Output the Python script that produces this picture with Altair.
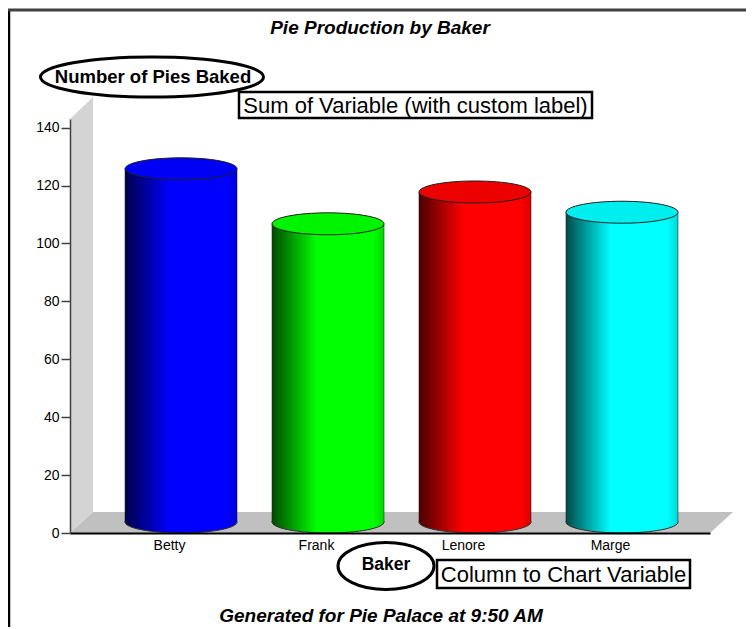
import altair as alt
import pandas as pd

# ---- data ----
bakers = ["Betty", "Frank", "Lenore", "Marge"]
pies = [122, 103, 114, 107]
y_ticks = [0, 20, 40, 60, 80, 100, 120, 140]

title_text = "Pie Production by Baker"
footer_text = "Generated for Pie Palace at 9:50 AM"
y_title_text = "Number of Pies Baked"
y_note_text = "Sum of Variable (with custom label)"
x_title_text = "Baker"
x_note_text = "Column to Chart Variable"

# ---- styles ----
full_colors = ["#0000ff", "#00ff00", "#ff0000", "#00ffff"]
dark_colors = ["#00004a", "#004a00", "#4a0000", "#004a4a"]
top_colors = ["#0000f4", "#00f400", "#ec0000", "#00eeee"]
edge_colors = ["#0000d8", "#00d800", "#d80000", "#00d8d8"]

W, H = 640, 414
DX, DY = 23, -21          # depth of the 3D floor/wall
CX, CY = 11.5, -11        # cylinders sit halfway in depth
CYL_W = 112

df = pd.DataFrame({"Baker": bakers, "Pies": pies})
one = alt.Data(values=[{"a": 1}])


def ellipse_path(k):
    c = 0.5523 * k
    return (f"M-1,0 C-1,{-c:.4f} -0.5523,{-k:.4f} 0,{-k:.4f} "
            f"C0.5523,{-k:.4f} 1,{-c:.4f} 1,0 "
            f"C1,{c:.4f} 0.5523,{k:.4f} 0,{k:.4f} "
            f"C-0.5523,{k:.4f} -1,{c:.4f} -1,0 Z")


x_enc = alt.X(
    "Baker:N",
    sort=bakers,
    scale=alt.Scale(paddingInner=0.238, paddingOuter=0.296),
    axis=alt.Axis(
        title=None, ticks=False, labelAngle=0, labelPadding=5,
        labelFont="Liberation Sans", labelFontSize=14, labelColor="#000000",
        domainColor="#000000", domainWidth=2, zindex=1,
    ),
)
y_scale = alt.Scale(domain=[0, 143], nice=False, zero=True)
y_axis = alt.Axis(
    title=None, values=y_ticks, grid=False, tickSize=9, tickColor="#404040",
    tickWidth=1.5, labelPadding=2, labelFont="Liberation Sans",
    labelFontSize=14, labelColor="#000000", domainColor="#404040",
    domainWidth=1.5, zindex=1,
)

layers = []

# floor and back wall (3D furniture)
floor_path = f"M0,0 L{W},0 L{W + DX},{DY} L{DX},{DY} Z"
wall_path = f"M0,0 L{DX},{DY} L{DX},{-H + DY - 1} L0,{-H} Z"
layers.append(
    alt.Chart(one).mark_point(shape=wall_path, size=4, filled=True,
                              fill="#d4d4d4", strokeWidth=0, opacity=1)
    .encode(x=alt.value(0), y=alt.value(H))
)
layers.append(
    alt.Chart(one).mark_point(shape=floor_path, size=4, filled=True,
                              fill="#c0c0c0", strokeWidth=0, opacity=1)
    .encode(x=alt.value(0), y=alt.value(H))
)

# axis carrier layer (invisible) to fix scales/axes
layers.append(
    alt.Chart(df).mark_point(opacity=0)
    .encode(x=x_enc, y=alt.Y("Pies:Q", scale=y_scale, axis=y_axis))
)

ell = ellipse_path(0.196)
for i, b in enumerate(bakers):
    grad = alt.LinearGradient(
        gradient="linear", x1=0, x2=1, y1=0, y2=0,
        stops=[
            alt.GradientStop(offset=0, color=dark_colors[i]),
            alt.GradientStop(offset=0.4, color=full_colors[i]),
            alt.GradientStop(offset=0.9, color=full_colors[i]),
            alt.GradientStop(offset=1, color=edge_colors[i]),
        ],
    )
    base = alt.Chart(df).transform_filter(alt.datum.Baker == b)
    # bottom ellipse
    layers.append(
        base.mark_point(shape=ell, size=CYL_W ** 2, filled=True, fill=grad,
                        stroke="#303030", strokeWidth=1, opacity=1,
                        xOffset=CX, yOffset=CY)
        .encode(x=alt.X("Baker:N", sort=bakers), y=alt.datum(0))
    )
    # body
    layers.append(
        base.mark_bar(fill=grad, strokeWidth=0, xOffset=CX, x2Offset=CX,
                      yOffset=CY, y2Offset=CY)
        .encode(x=alt.X("Baker:N", sort=bakers), y=alt.Y("Pies:Q"), y2=alt.datum(0))
    )
    # side edges
    for sx in (-CYL_W / 2, CYL_W / 2):
        layers.append(
            base.mark_rule(color="#202020", strokeWidth=0.8, opacity=0.7,
                           xOffset=CX + sx, yOffset=CY, y2Offset=CY)
            .encode(x=alt.X("Baker:N", sort=bakers), y=alt.Y("Pies:Q"), y2=alt.datum(0))
        )
    # top ellipse
    layers.append(
        base.mark_point(shape=ell, size=CYL_W ** 2, filled=True, fill=top_colors[i],
                        stroke="#202020", strokeWidth=1, opacity=1,
                        xOffset=CX, yOffset=CY)
        .encode(x=alt.X("Baker:N", sort=bakers), y=alt.Y("Pies:Q"))
    )

# frame lines (left and top)
layers.append(
    alt.Chart(one).mark_rule(color="#000000", strokeWidth=2.5)
    .encode(x=alt.value(-61), y=alt.value(-109), y2=alt.value(520))
)
layers.append(
    alt.Chart(one).mark_rule(color="#404040", strokeWidth=3)
    .encode(x=alt.value(-62), x2=alt.value(700), y=alt.value(-109))
)

# title & footer
layers.append(
    alt.Chart(one).mark_text(text=title_text, font="Liberation Sans", fontSize=19,
                             fontStyle="italic", fontWeight="bold", color="#000000",
                             align="center", baseline="middle")
    .encode(x=alt.value(310), y=alt.value(-91))
)
layers.append(
    alt.Chart(one).mark_text(text=footer_text, font="Liberation Sans", fontSize=19,
                             fontStyle="italic", fontWeight="bold", color="#000000",
                             align="center", baseline="middle")
    .encode(x=alt.value(311), y=alt.value(497))
)

# y title ellipse + text
layers.append(
    alt.Chart(one).mark_point(shape=ellipse_path(0.18), size=223 ** 2, filled=False,
                              stroke="#000000", strokeWidth=3, opacity=1)
    .encode(x=alt.value(82), y=alt.value(-42))
)
layers.append(
    alt.Chart(one).mark_text(text=y_title_text, font="Liberation Sans", fontSize=18.5,
                             fontWeight="bold", color="#000000",
                             align="center", baseline="middle")
    .encode(x=alt.value(83), y=alt.value(-42))
)
# y note box
layers.append(
    alt.Chart(one).mark_rect(fill="#ffffff", stroke="#000000", strokeWidth=2.5)
    .encode(x=alt.value(169), x2=alt.value(522), y=alt.value(-27), y2=alt.value(-1))
)
layers.append(
    alt.Chart(one).mark_text(text=y_note_text, font="Liberation Sans", fontSize=22,
                             color="#000000", align="center", baseline="middle")
    .encode(x=alt.value(345.5), y=alt.value(-13))
)

# x title ellipse + text
layers.append(
    alt.Chart(one).mark_point(shape=ellipse_path(0.49), size=96 ** 2, filled=False,
                              stroke="#000000", strokeWidth=3, opacity=1)
    .encode(x=alt.value(316), y=alt.value(447))
)
layers.append(
    alt.Chart(one).mark_text(text=x_title_text, font="Liberation Sans", fontSize=17.5,
                             fontWeight="bold", color="#000000",
                             align="center", baseline="middle")
    .encode(x=alt.value(316), y=alt.value(446))
)
# x note box
layers.append(
    alt.Chart(one).mark_rect(fill="#ffffff", stroke="#000000", strokeWidth=2.5)
    .encode(x=alt.value(367), x2=alt.value(620), y=alt.value(441), y2=alt.value(469))
)
layers.append(
    alt.Chart(one).mark_text(text=x_note_text, font="Liberation Sans", fontSize=22,
                             color="#000000", align="center", baseline="middle")
    .encode(x=alt.value(493.5), y=alt.value(456))
)

chart = (
    alt.layer(*layers)
    .properties(
        width=W, height=H,
        autosize=alt.AutoSizeParams(type="none"),
        padding={"left": 62, "top": 111, "right": 36, "bottom": 94},
        background="#ffffff",
    )
    .configure_view(stroke=None)
)

chart.save("out.html", embed_options={"renderer": "svg", "actions": False})
